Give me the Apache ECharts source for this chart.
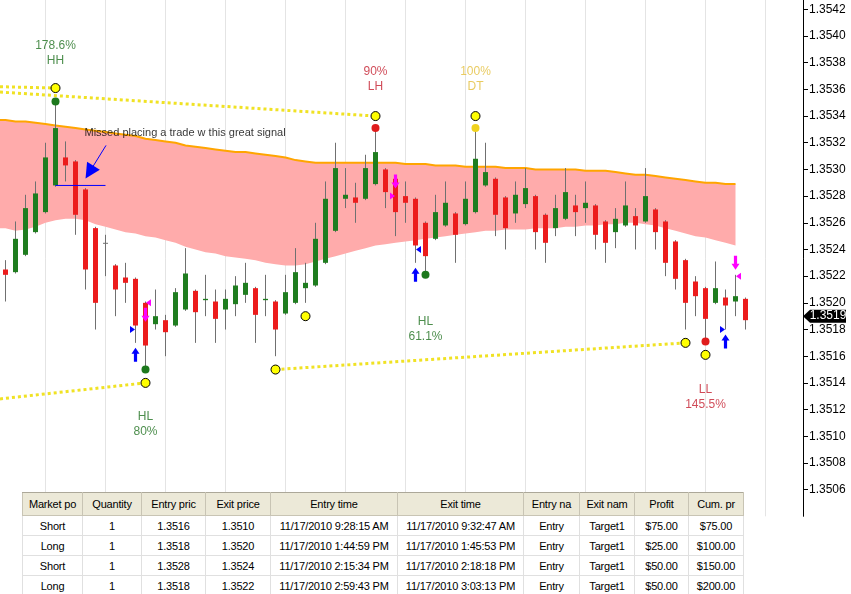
<!DOCTYPE html>
<html><head><meta charset="utf-8">
<script src="https://cdn.jsdelivr.net/npm/echarts@6/dist/echarts.min.js"></script>
<style>
html,body{margin:0;padding:0;background:#fff;}
#chart{position:absolute;left:0;top:0;width:851px;height:594px;}
#trades{position:absolute;left:22px;top:492px;border-collapse:collapse;table-layout:fixed;width:721px;
  font-family:"Liberation Sans",Arial,sans-serif;font-size:11px;letter-spacing:-0.2px;background:#fff;color:#000;}
#trades th{background:#ece9d8;font-weight:normal;height:22px;padding:0;text-align:center;white-space:nowrap;overflow:hidden;
  border-top:1px solid #aca899;border-bottom:1px solid #c8c4b4;border-left:1px solid #c8c4b4;border-right:1px solid #c8c4b4;}
#trades td{height:19px;padding:0;text-align:center;white-space:nowrap;overflow:hidden;border:1px solid #e0e0e0;}
</style></head>
<body>
<div id="chart"></div>
<table id="trades"></table>
<script>
// ---------- candle data (index 0..74) ----------
const opens = [1.35225,1.35223,1.35236,1.35253,1.35268,1.35288,1.35309,1.35306,1.35285,1.35256,
1.35245,1.35228,1.35219,1.35218,1.35200,1.35184,1.35187,1.35183,1.35195,1.35209,
1.35202,1.35201,1.35195,1.35199,1.35206,1.35211,1.35202,1.35201,1.35192,1.35200,
1.35211,1.35213,1.35230,1.35254,1.35278,1.35279,1.35278,1.35289,1.35300,1.35293,
1.35280,1.35278,1.35260,1.35248,1.35258,1.35267,1.35259,1.35268,1.35288,1.35293,
1.35279,1.35267,1.35274,1.35280,1.35266,1.35256,1.35263,1.35273,1.35271,1.35273,
1.35261,1.35253,1.35258,1.35265,1.35261,1.35270,1.35261,1.35246,1.35232,1.35216,
1.35211,1.35200,1.35204,1.35201,1.35203];
const closes = [1.35221,1.35248,1.35271,1.35282,1.35309,1.35331,1.35303,1.35266,1.35225,1.35200,
1.35245,1.35210,1.35215,1.35183,1.35168,1.35190,1.35178,1.35208,1.35222,1.35193,
1.35203,1.35188,1.35203,1.35213,1.35215,1.35191,1.35203,1.35180,1.35208,1.35223,
1.35215,1.35248,1.35278,1.35301,1.35281,1.35275,1.35301,1.35313,1.35283,1.35268,
1.35275,1.35243,1.35235,1.35268,1.35275,1.35251,1.35278,1.35308,1.35298,1.35266,
1.35256,1.35281,1.35286,1.35253,1.35245,1.35271,1.35283,1.35268,1.35275,1.35251,
1.35245,1.35263,1.35273,1.35258,1.35280,1.35253,1.35230,1.35218,1.35200,1.35205,
1.35188,1.35211,1.35198,1.35205,1.35187];
const lows = [1.35201,1.35222,1.35235,1.35252,1.35267,1.35287,1.35291,1.35251,1.35210,1.35180,
1.35220,1.35190,1.35200,1.35170,1.35150,1.35180,1.35160,1.35182,1.35194,1.35170,
1.35190,1.35170,1.35180,1.35190,1.35200,1.35170,1.35190,1.35160,1.35191,1.35199,
1.35200,1.35212,1.35229,1.35253,1.35271,1.35260,1.35277,1.35288,1.35271,1.35250,
1.35260,1.35230,1.35221,1.35247,1.35257,1.35230,1.35258,1.35267,1.35287,1.35250,
1.35240,1.35260,1.35271,1.35240,1.35230,1.35250,1.35262,1.35250,1.35260,1.35240,
1.35230,1.35241,1.35257,1.35240,1.35260,1.35240,1.35220,1.35210,1.35180,1.35190,
1.35171,1.35199,1.35180,1.35190,1.35180];
const highs = [1.35232,1.35261,1.35281,1.35291,1.35320,1.35351,1.35321,1.35307,1.35286,1.35257,
1.35251,1.35229,1.35230,1.35219,1.35201,1.35210,1.35191,1.35211,1.35241,1.35210,
1.35221,1.35210,1.35210,1.35220,1.35230,1.35212,1.35221,1.35202,1.35221,1.35241,
1.35230,1.35260,1.35291,1.35320,1.35301,1.35290,1.35311,1.35331,1.35301,1.35295,
1.35291,1.35279,1.35261,1.35281,1.35291,1.35268,1.35291,1.35331,1.35320,1.35294,
1.35280,1.35291,1.35301,1.35281,1.35267,1.35281,1.35301,1.35281,1.35291,1.35274,
1.35262,1.35271,1.35291,1.35271,1.35301,1.35271,1.35262,1.35247,1.35233,1.35220,
1.35212,1.35231,1.35210,1.35221,1.35204];

// ---------- envelope band (index 0..73) ----------
const bandUpper = [1.35337,1.35336,1.35336,1.35335,1.35334,1.35333,1.35332,1.35331,1.35330,1.35329,
1.35328,1.35327,1.35326,1.35325,1.35323,1.35322,1.35321,1.35320,1.35318,1.35317,
1.35316,1.35315,1.35314,1.35313,1.35313,1.35312,1.35311,1.35310,1.35309,1.35307,
1.35306,1.35305,1.35305,1.35305,1.35305,1.35305,1.35305,1.35305,1.35305,1.35305,
1.35304,1.35304,1.35304,1.35303,1.35303,1.35303,1.35302,1.35302,1.35302,1.35302,
1.35301,1.35301,1.35301,1.35300,1.35300,1.35300,1.35300,1.35300,1.35299,1.35299,
1.35299,1.35298,1.35297,1.35296,1.35296,1.35295,1.35294,1.35293,1.35292,1.35291,
1.35290,1.35290,1.35289,1.35289];
const bandLower = [1.35256,1.35254,1.35255,1.35257,1.35260,1.35262,1.35263,1.35263,1.35262,1.35259,
1.35257,1.35255,1.35253,1.35252,1.35250,1.35249,1.35247,1.35245,1.35242,1.35240,
1.35238,1.35237,1.35235,1.35234,1.35233,1.35232,1.35230,1.35229,1.35228,1.35228,
1.35229,1.35231,1.35233,1.35235,1.35237,1.35239,1.35241,1.35243,1.35244,1.35245,
1.35246,1.35247,1.35248,1.35249,1.35250,1.35251,1.35252,1.35253,1.35254,1.35254,
1.35255,1.35255,1.35255,1.35256,1.35256,1.35256,1.35257,1.35257,1.35258,1.35258,
1.35259,1.35259,1.35260,1.35260,1.35259,1.35258,1.35256,1.35254,1.35252,1.35250,
1.35249,1.35247,1.35245,1.35243];

// ---------- axes ----------
const xMin = -0.55, xMax = 79.75;
const yMin = 1.3504, yMax = 1.35427, yStep = 0.0002;
const gridX = [4,10,16,22,28,34,40,46,52,58,64,70,76];
const gridY = [1.3506,1.3512,1.3518,1.3524,1.3530,1.3536,1.3542];
const currentPrice = 1.3519;

// ---------- swing points ----------
const dotIdx = [5,37,47,14,42,70];
const dotPrice = [1.35351,1.35331,1.35331,1.35150,1.35221,1.35171];
const dotColor = ['#1c781c','#e01c1c','#f0d21e','#1c781c','#1c781c','#e01c1c'];
const circleIdx = [5,37,47,14,27,30,68,70];
const circlePrice = [1.35361,1.35340,1.35340,1.35140,1.35150,1.35190,1.35170,1.35161];
const labelIdx = [5,37,47,42,14,70];
const labelPrice = [1.35387,1.35368,1.35368,1.35180,1.35109,1.35129];
const labelText = ['178.6%\nHH','90%\nLH','100%\nDT','HL\n61.1%','HL\n80%','LL\n145.5%'];
const labelColor = ['#217221','#c41e2e','#e3be3a','#217221','#217221','#c41e2e'];
// trend lines: [x1, p1, x2, p2]
const trendLines = [[-0.55,1.35358,37,1.35340],[-0.55,1.35362,5,1.35361],[-0.55,1.35128,14,1.35140],[27,1.35150,68,1.35170]];

// ---------- trade markers ----------
const buyArrowIdx = [13,41,72], buyArrowPrice = [1.35161,1.35221,1.35171];
const sellArrowIdx = [14,39,73], sellArrowPrice = [1.35191,1.35291,1.35230];
const fillIdx = [13,14,39,41,72,73];
const fillPrice = [1.3518,1.3520,1.3528,1.3524,1.3518,1.3522];
const fillSide = ['buy','sell','sell','buy','buy','sell'];
const fillKind = ['entry','exit','entry','exit','entry','exit'];

// ---------- annotation ----------
const noteText = 'Missed placing a trade w this great signal';
const noteAt = [7.85, 1.35327];
const noteLine = [5, 1.35288, 10, 1.35288];
const noteArrow = [10.05, 1.35318, 8.4, 1.35298];

// ---------- trades table ----------
const tableCols = ['Market po','Quantity','Entry pric','Exit price','Entry time','Exit time','Entry na','Exit nam','Profit','Cum. pr'];
const colWidths = [60,59,64,65,127,126,56,55,54,55];
const positions = ['Short','Long','Short','Long'];
const quantities = [1,1,1,1];
const entryPrices = ['1.3516','1.3518','1.3528','1.3518'];
const exitPrices = ['1.3510','1.3520','1.3524','1.3522'];
const entryTimes = ['11/17/2010 9:28:15 AM','11/17/2010 1:44:59 PM','11/17/2010 2:15:34 PM','11/17/2010 2:59:43 PM'];
const exitTimes = ['11/17/2010 9:32:47 AM','11/17/2010 1:45:53 PM','11/17/2010 2:18:18 PM','11/17/2010 3:03:13 PM'];
const entryNames = ['Entry','Entry','Entry','Entry'];
const exitNames = ['Target1','Target1','Target1','Target1'];
const profits = ['$75.00','$25.00','$50.00','$50.00'];
const cumProfits = ['$75.00','$100.00','$150.00','$200.00'];

// ---------- styles ----------
const FONT = 'Liberation Sans';
const upColor = '#1f7d1f', downColor = '#ec1c1c', wickColor = '#707070';
const dotYellow = '#f0e224', blue = '#0000ff', magenta = '#ff00ff';
const upArrowPath = 'path://M5,0 L10,6 L7,6 L7,14 L3,14 L3,6 L0,6 Z';
const downArrowPath = 'path://M3,0 L7,0 L7,8 L10,8 L5,14 L0,8 L3,8 Z';
const triRight = 'path://M0,0 L5,3.5 L0,7 Z';
const triLeft = 'path://M5,0 L0,3.5 L5,7 Z';

// ---------- table ----------
(function(){
  const t = document.getElementById('trades');
  let h = '<colgroup>' + colWidths.map(w => '<col style="width:' + w + 'px">').join('') + '</colgroup>';
  h += '<tr>' + tableCols.map(c => '<th>' + c + '</th>').join('') + '</tr>';
  for (let r = 0; r < positions.length; r++) {
    const cells = [positions[r], quantities[r], entryPrices[r], exitPrices[r], entryTimes[r], exitTimes[r], entryNames[r], exitNames[r], profits[r], cumProfits[r]];
    h += '<tr>' + cells.map(c => '<td>' + c + '</td>').join('') + '</tr>';
  }
  t.innerHTML = h;
})();

// ---------- chart ----------
const chart = echarts.init(document.getElementById('chart'));
const upperLine = [[xMin, bandUpper[0]]].concat(bandUpper.map((v,i)=>[i,v]));
const solid = {opacity:1};

const series = [
  { type:'line', data:[], silent:true, z:1,
    markLine:{ silent:true, z:1, symbol:['none','none'], label:{show:false}, animation:false,
      lineStyle:{color:'#e4e4e4', width:1, type:'solid'},
      data: gridX.map(v=>({xAxis:v})).concat(gridY.map(v=>({yAxis:v}))) } },
  { type:'custom', z:2, silent:true,
    data: bandUpper.map((u,i)=>[i, u, bandLower[i]]),
    encode:{x:0, y:[1,2]},
    renderItem:(params, api) => {
      if (params.dataIndex !== 0) return null;
      const pts = [api.coord([xMin, bandUpper[0]])];
      for (let i = 0; i < bandUpper.length; i++) pts.push(api.coord([i, bandUpper[i]]));
      for (let i = bandLower.length - 1; i >= 0; i--) pts.push(api.coord([i, bandLower[i]]));
      pts.push(api.coord([xMin, bandLower[0]]));
      return { type:'polygon', shape:{points:pts}, style:{fill:'#ffabab'} };
    } },
  { type:'line', data:upperLine, symbol:'none', silent:true, z:3, lineStyle:{color:'#ffa500', width:2} },
  { type:'line', data:[], silent:true, z:3,
    markLine:{ silent:true, z:3, symbol:['none','none'], label:{show:false}, animation:false,
      lineStyle:{color:'#b8a088', width:1, type:'solid'}, data:[{yAxis:currentPrice}] } }
];
trendLines.forEach(t => series.push({
  type:'line', data:[[t[0],t[1]],[t[2],t[3]]], symbol:'none', silent:true, z:4,
  lineStyle:{color:dotYellow, width:3, type:'dotted'}
}));
series.push({
  type:'custom', z:5, silent:true,
  data: opens.map((o,i)=>[i, o, closes[i], lows[i], highs[i]]),
  encode:{x:0, y:[1,2,3,4]},
  renderItem:(params, api) => {
    const i = api.value(0), o = api.value(1), c = api.value(2), l = api.value(3), hh = api.value(4);
    const pH = api.coord([i,hh]), pL = api.coord([i,l]), pO = api.coord([i,o]), pC = api.coord([i,c]);
    const col = c > o ? upColor : (c < o ? downColor : wickColor);
    const top = Math.min(pO[1], pC[1]);
    const hgt = Math.max(1, Math.abs(pO[1] - pC[1]));
    return { type:'group', children:[
      { type:'line', shape:{x1:pH[0], y1:pH[1], x2:pL[0], y2:pL[1]}, style:{stroke:wickColor, lineWidth:1} },
      { type:'rect', shape:{x:pO[0]-2.5, y:top, width:5, height:hgt}, style:{fill:col} }
    ]};
  }
});
// annotation line + arrow
series.push({
  type:'line', data:[[noteLine[0],noteLine[1]],[noteLine[2],noteLine[3]]], symbol:'none', silent:true, z:6,
  lineStyle:{color:blue, width:1},
  markLine:{ silent:true, symbol:['none','triangle'], symbolSize:15, label:{show:false}, animation:false,
    lineStyle:{color:blue, width:1, type:'solid'}, itemStyle:{color:blue},
    data:[[{coord:[noteArrow[0],noteArrow[1]]},{coord:[noteArrow[2],noteArrow[3]]}]] }
});
series.push({
  type:'scatter', z:6, silent:true, symbolSize:8,
  data: dotIdx.map((x,k)=>({value:[x, dotPrice[k]], itemStyle:{color:dotColor[k], opacity:1}}))
});
series.push({
  type:'scatter', z:7, silent:true, symbolSize:9,
  itemStyle:{color:'#ffff00', borderColor:'#000', borderWidth:1, opacity:1},
  data: circleIdx.map((x,k)=>[x, circlePrice[k]])
});
series.push({
  type:'scatter', z:8, silent:true, symbol:upArrowPath, symbolSize:[8,14], itemStyle:{color:blue, opacity:1},
  data: buyArrowIdx.map((x,k)=>[x, buyArrowPrice[k]])
});
series.push({
  type:'scatter', z:8, silent:true, symbol:downArrowPath, symbolSize:[8,14], itemStyle:{color:magenta, opacity:1},
  data: sellArrowIdx.map((x,k)=>[x, sellArrowPrice[k]])
});
series.push({
  type:'scatter', z:8, silent:true,
  data: fillIdx.map((x,k)=>({
    value:[x, fillPrice[k]],
    symbol: fillKind[k] === 'entry' ? triRight : triLeft,
    symbolSize:[5,7],
    symbolOffset: fillKind[k] === 'entry' ? [-3,0] : [3,0],
    itemStyle:{color: fillSide[k] === 'buy' ? blue : magenta, opacity:1}
  }))
});
series.push({
  type:'scatter', z:9, silent:true, symbolSize:1, itemStyle:{color:'rgba(0,0,0,0)'},
  label:{show:true, position:'inside', formatter:p=>p.name, fontFamily:FONT, fontSize:12, lineHeight:15},
  data: labelIdx.map((x,k)=>({value:[x, labelPrice[k]], name:labelText[k], label:{color:labelColor[k]}}))
});
series.push({
  type:'scatter', z:9, silent:true, symbolSize:1, itemStyle:{color:'rgba(0,0,0,0)'},
  label:{show:true, position:'right', distance:0, formatter:p=>p.name, fontFamily:FONT, fontSize:11, color:'#000'},
  data:[{value:noteAt, name:noteText}]
});
series.push({
  type:'scatter', z:10, silent:true, clip:false,
  symbol:'path://M0,6.5 L7,0 L43,0 L43,13 L7,13 Z', symbolSize:[43,13], symbolOffset:[21.5,0],
  itemStyle:{color:'#000', opacity:1},
  label:{show:true, position:'inside', offset:[3.5,0], color:'#fff', fontFamily:FONT, fontSize:12,
    formatter:()=>currentPrice.toFixed(4)},
  data:[[xMax, currentPrice]]
});

chart.setOption({
  animation:false,
  backgroundColor:'#fff',
  textStyle:{fontFamily:FONT},
  grid:{left:0, top:0, width:803, height:516.3, outerBoundsMode:'none', containLabel:false},
  xAxis:{type:'value', min:xMin, max:xMax, show:false},
  yAxis:{type:'value', position:'right', min:yMin, max:yMax, interval:yStep,
    axisLine:{show:true, onZero:false, lineStyle:{color:'#000', width:1}},
    axisTick:{show:true, length:5, inside:false, lineStyle:{color:'#000'}},
    axisLabel:{color:'#000', fontSize:12, fontFamily:FONT, margin:6, showMaxLabel:false, showMinLabel:false,
      formatter:v=>v.toFixed(4)},
    splitLine:{show:false}},
  series: series
});
</script>
</body></html>
